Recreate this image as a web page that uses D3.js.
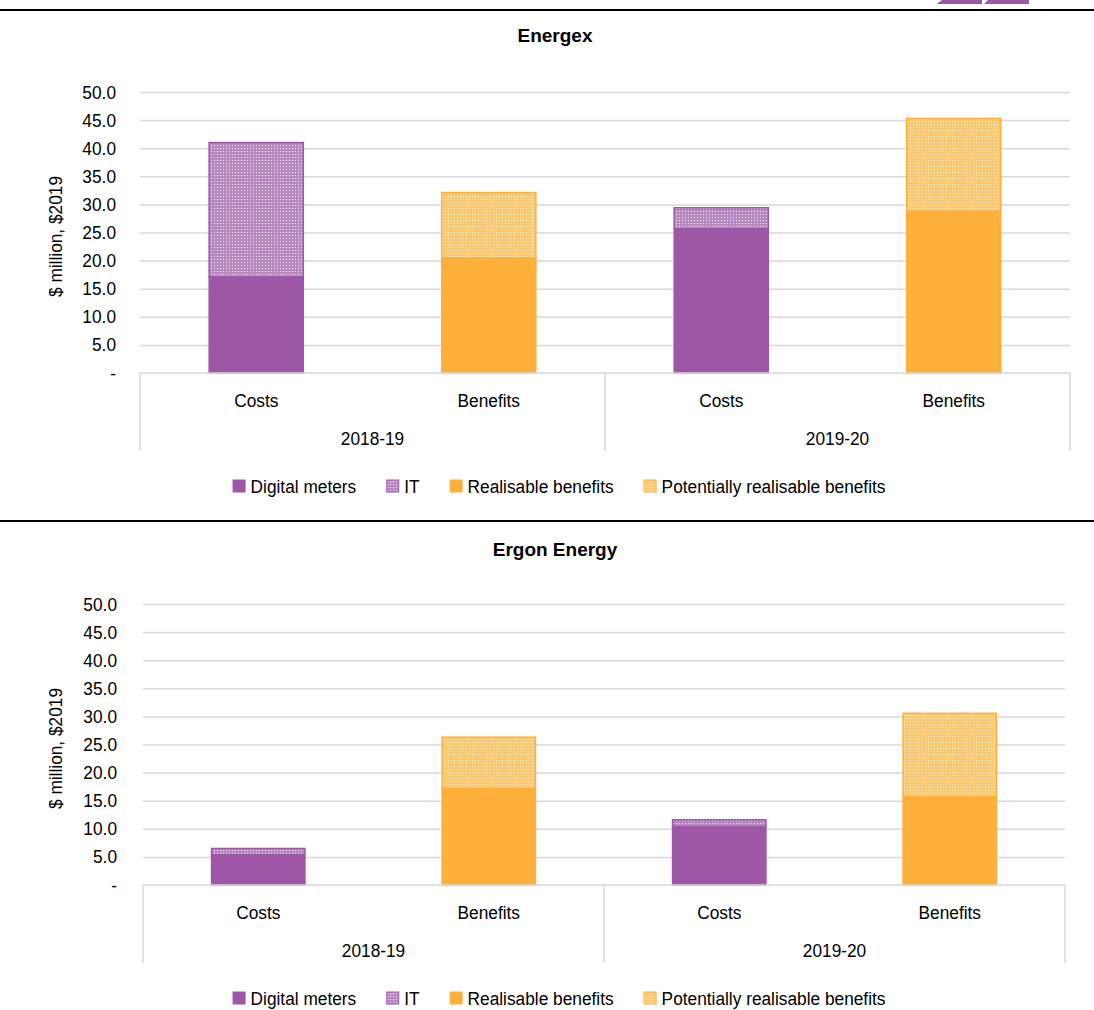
<!DOCTYPE html>
<html><head><meta charset="utf-8">
<script src="https://cdn.jsdelivr.net/npm/d3@7"></script>
<style>
html,body{margin:0;padding:0;background:#fff;}
text{font-family:"Liberation Sans",Arial,sans-serif;fill:#000;}
</style></head>
<body>
<svg id="c" width="1094" height="1010"></svg>
<script>
// ---- data ----
const groups = ["2018-19", "2019-20"];
const categories = ["Costs", "Benefits"];
const seriesNames = ["Digital meters", "IT", "Realisable benefits", "Potentially realisable benefits"];
const yTicks = [0, 5, 10, 15, 20, 25, 30, 35, 40, 45, 50];
const yTickLabels = ["-", "5.0", "10.0", "15.0", "20.0", "25.0", "30.0", "35.0", "40.0", "45.0", "50.0"];

const energexDigital = [17.1, 25.7];
const energexIT = [23.9, 3.7];
const energexRealisable = [20.5, 28.8];
const energexPotential = [11.6, 16.5];

const ergonDigital = [5.4, 10.4];
const ergonIT = [1.1, 1.2];
const ergonRealisable = [17.2, 15.7];
const ergonPotential = [9.1, 14.85];

const PURPLE = "#9E57A6", ORANGE = "#FFB03B", GRID = "#D9D9D9";
const SX = 0.91;   // condensed look of the original font
const FS = 19;

const svg = d3.select("#c");
const defs = svg.append("defs");
function makePattern(id, bg, dot) {
  const p = defs.append("pattern").attr("id", id).attr("patternUnits", "userSpaceOnUse")
    .attr("width", 3).attr("height", 3);
  p.append("rect").attr("width", 3).attr("height", 3).attr("fill", bg);
  p.append("rect").attr("x", 1).attr("y", 1).attr("width", 1).attr("height", 1).attr("fill", dot);
}
makePattern("patIT", "#B888C2", "#F6EEF7");
makePattern("patPot", "#FFC872", "#FFF6E6");

function txt(parent, x, y, str, anchor, rot) {
  return parent.append("text")
    .attr("transform", `translate(${x},${y})${rot ? " rotate(" + rot + ")" : ""} scale(${SX},1)`)
    .attr("text-anchor", anchor || "start").style("font-size", FS + "px").text(str);
}

// header decorations
svg.append("path").attr("d", "M937,4 L942,0 L982,0 L982,4 Z").attr("fill", PURPLE);
svg.append("path").attr("d", "M984,4 L988,0 L1029,0 L1029,4 Z").attr("fill", PURPLE);

function chart(o) {
  const g = svg.append("g");
  g.append("rect").attr("x", 0).attr("y", o.lineY).attr("width", 1094).attr("height", 2).attr("fill", "#000");
  g.append("text").attr("x", 555).attr("y", o.titleY).attr("text-anchor", "middle")
    .style("font-size", "19px").style("font-weight", "bold").text(o.title);

  const y = d3.scaleLinear().domain([0, 50]).range([o.y0, o.y50]);
  const slots = [];
  groups.forEach(gr => categories.forEach(c => slots.push(gr + "|" + c)));
  const x = d3.scaleBand().domain(slots).range([o.x0, o.x1]).paddingInner(0.595).paddingOuter(0.2975);
  const xg = d3.scaleBand().domain(groups).range([o.x0, o.x1]);

  const yAxis = d3.axisLeft(y).tickValues(yTicks).tickSize(-(o.x1 - o.x0))
    .tickFormat((d, i) => yTickLabels[i]).tickPadding(0);
  const ya = g.append("g").attr("transform", `translate(${o.x0},0)`).call(yAxis);
  ya.select(".domain").remove();
  ya.selectAll(".tick line").attr("stroke", GRID).attr("stroke-width", 1.5)
    .filter(d => d === 0).remove();
  ya.selectAll(".tick text").style("font-size", FS + "px").style("font-family", '"Liberation Sans",Arial,sans-serif')
    .attr("fill", "#000").attr("x", 0)
    .attr("transform", `translate(${o.tickRight - o.x0},0) scale(${SX},1)`);

  txt(g, o.ylabX, (o.y0 + o.y50) / 2 + 4, "$ million, $2019", "middle", -90);

  const stacks = [];
  groups.forEach((gr, i) => {
    stacks.push({slot: gr + "|Costs", parts: [
      {v0: 0, v1: o.digital[i], fill: PURPLE, stroke: PURPLE},
      {v0: o.digital[i], v1: o.digital[i] + o.it[i], fill: "url(#patIT)", stroke: PURPLE}]});
    stacks.push({slot: gr + "|Benefits", parts: [
      {v0: 0, v1: o.realisable[i], fill: ORANGE, stroke: ORANGE},
      {v0: o.realisable[i], v1: o.realisable[i] + o.potential[i], fill: "url(#patPot)", stroke: ORANGE}]});
  });
  stacks.forEach(s => {
    s.parts.forEach(p => {
      g.append("rect").attr("x", x(s.slot)).attr("width", x.bandwidth())
        .attr("y", y(p.v1)).attr("height", y(p.v0) - y(p.v1))
        .attr("fill", p.fill).attr("stroke", p.stroke).attr("stroke-width", 1.5);
    });
  });

  const boxH = 78;
  g.append("line").attr("x1", o.x0).attr("x2", o.x1).attr("y1", o.y0).attr("y2", o.y0)
    .attr("stroke", GRID).attr("stroke-width", 1.5);
  [o.x0, xg("2019-20"), o.x1].forEach(xx => {
    g.append("line").attr("x1", xx).attr("x2", xx).attr("y1", o.y0).attr("y2", o.y0 + boxH)
      .attr("stroke", GRID).attr("stroke-width", 1.5);
  });
  slots.forEach(s => txt(g, x(s) + x.bandwidth() / 2, o.y0 + 34, s.split("|")[1], "middle"));
  groups.forEach(gr => txt(g, xg(gr) + xg.bandwidth() / 2, o.y0 + 72, gr, "middle"));

  const fills = [PURPLE, "url(#patIT)", ORANGE, "url(#patPot)"];
  const strokes = [PURPLE, PURPLE, ORANGE, ORANGE];
  const lg = g.append("g");
  let cx = 0;
  seriesNames.forEach((n, i) => {
    const it = lg.append("g").attr("transform", `translate(${cx},0)`);
    it.append("rect").attr("x", 0.5).attr("y", -6).attr("width", 12).attr("height", 12)
      .attr("fill", fills[i]).attr("stroke", strokes[i]).attr("stroke-width", 1);
    const t = txt(it, 18, 7, n, "start");
    cx += 18 + t.node().getComputedTextLength() * SX + 30;
  });
  const lw = cx - 30;
  lg.attr("transform", `translate(${o.legendCx - lw / 2},${o.legendY})`);
}

chart({title: "Energex", lineY: 9, titleY: 42, x0: 140, x1: 1070, y0: 373, y50: 92, ylabX: 62, tickRight: 116,
  digital: energexDigital, it: energexIT, realisable: energexRealisable, potential: energexPotential,
  legendY: 486, legendCx: 559});
chart({title: "Ergon Energy", lineY: 520, titleY: 556, x0: 143, x1: 1065, y0: 885, y50: 604, ylabX: 62, tickRight: 117,
  digital: ergonDigital, it: ergonIT, realisable: ergonRealisable, potential: ergonPotential,
  legendY: 998, legendCx: 559});
</script>
</body></html>
